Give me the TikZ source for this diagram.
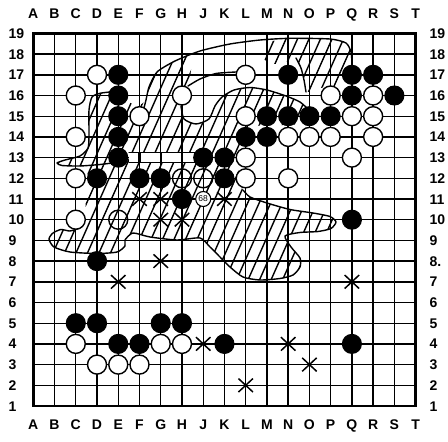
\documentclass[tikz,border=0pt]{standalone}
\usepackage{fontspec}
\setmainfont{Liberation Sans}
\usetikzlibrary{shapes.misc}
\tikzset{
  gridline/.style={line width=1.4pt},
  boardedge/.style={line width=2.7pt},
  bstone/.style={circle, fill=black, draw=black, line width=1.1pt, minimum size=19pt, inner sep=0pt},
  wstone/.style={circle, fill=white, draw=black, line width=1.4pt, minimum size=19pt, inner sep=0pt},
  hwstone/.style={circle, draw=black, line width=1.4pt, minimum size=19pt, inner sep=0pt},
  numstone/.style={circle, fill=white, draw=black, line width=1.1pt, minimum size=15pt, inner sep=0pt, font=\fontsize{8.5}{8.5}\selectfont},
  hatchline/.style={line width=1.4pt},
  outline/.style={line width=1.4pt, line join=round, line cap=round},
  xmark/.style={cross out, draw=black, line width=1.5pt, minimum width=13pt, minimum height=12pt, inner sep=0pt},
  lab/.style={font=\fontsize{14}{14}\selectfont\bfseries, inner sep=0pt, text height=10pt, text depth=0pt},
}
\begin{document}
\begin{tikzpicture}
\useasboundingbox (0pt,0pt) rectangle (448pt,-442pt);
% ---------- board grid (grid coordinates) ----------
\begin{scope}[shift={(12.06pt,-426.7pt)}, x=21.24pt, y=20.7pt]
  \foreach \i in {2,...,18} \draw[gridline] (\i,1) -- (\i,19);
  \foreach \j in {2,...,18} \draw[gridline] (1,\j) -- (19,\j);
  \draw[boardedge] (1,1) rectangle (19,19);
  % white stones lying under the hatching
  \foreach \c/\r in {5/10, 8/12, 9/12} \node[hwstone] (hw-\c-\r) at (\c,\r) {};
\end{scope}
% ---------- hatching and outlines (pixel coordinates) ----------
\begin{scope}[x=1pt, y=-1pt]
  \begin{scope}
    \clip plot[smooth cycle, tension=0.4] coordinates {
      (100,93.3) (110,92) (124,99) (137,106) (146,100) (149,87) (157,72) (175,61) (190,55)
      (191,70) (188,86) (181,106) (184,119) (196,124) (209,119) (215,106) (222,97) (234,90)
      (250,87.5) (267,90) (286,96) (300,102) (310,111) (314,121) (290,125) (262,125) (250,130)
      (240,145) (238,165) (240,182) (243,190) (250,197) (267,203) (290,209.5) (313,213)
      (330,216.5) (336,222) (331,228.5) (318,231.5) (300,232.5) (285,236) (291,247) (300,258)
      (300,267) (293,275) (280,278.5) (260,280) (243,277) (230,267) (220,257) (210,247)
      (200,238) (177,240) (150,237) (133,233) (125,240) (125,246) (117,252) (97,253.5)
      (70,252) (54,247) (49,239) (53,233) (61,229.5) (70,231) (80,228) (86,215) (85,195)
      (88,175) (80,166) (62,165.5) (57,163) (65,160) (80,156) (88,148) (89,135) (89,110) (92,97)}
      plot[smooth cycle, tension=0.4] coordinates {
      (262,45) (275,40.5) (290,38.3) (330,39) (346,43) (351,52) (352,64) (346,76) (336,86)
      (320,88) (306,92) (304,80) (301,68) (296,60) (285,62) (272,64) (263,58)};
    \foreach \k in {-14,...,34} \draw[hatchline] ({\k*11.5},450) -- ++(222,-500);
  \end{scope}
  % unhatched band along row 13
  \fill[white] (129,152.5) rectangle (197,162.5);
  \draw[outline] (129,152.5) -- (197,152.5);
  \draw[outline] (129,162.5) -- (197,162.5);
  \foreach \xx in {139.5,160.7,182.0} \draw[line width=2.4pt] (\xx,152.5) -- (\xx,162.5);
  % outlines
  \draw[outline] plot[smooth, tension=0.4] coordinates {
    (112,163) (100,164.5) (80,166) (62,165.5) (57,163) (65,160) (80,156) (88,148) (89,135)
    (89,110) (92,97) (100,93.3) (110,92)};
  \draw[outline] plot[smooth, tension=0.4] coordinates {
    (143,112) (146,100) (149,87) (157,72) (175,61) (200,51) (230,44) (260,40) (290,38.3)
    (330,39) (346,43) (351,52) (352,64)};
  \draw[outline] plot[smooth, tension=0.4] coordinates {(188,86) (200,79) (216,73.5) (236,72)};
  \draw[outline] plot[smooth, tension=0.4] coordinates {
    (181,106) (184,119) (196,124) (209,119) (215,106) (222,97) (234,90) (250,87.5) (267,90)
    (286,96) (300,102) (310,111)};
  \draw[outline] plot[smooth, tension=0.4] coordinates {(296,58) (301,68) (304,80) (306,92)};
  \draw[outline] plot[smooth, tension=0.4] coordinates {
    (243,190) (250,197) (267,203) (290,209.5) (313,213) (330,216.5) (336,222) (331,228.5)
    (318,231.5) (300,232.5) (285,236) (291,247) (300,258) (300,267) (293,275) (280,278.5)
    (260,280) (243,277) (230,267) (220,257) (210,247) (200,238) (177,240) (150,237) (133,233)
    (125,240) (125,246) (117,252) (97,253.5) (70,252) (54,247) (49,239) (53,233) (61,229.5)
    (70,231) (80,228)};
\end{scope}
% ---------- stones, marks, labels (grid coordinates) ----------
\begin{scope}[shift={(12.06pt,-426.7pt)}, x=21.24pt, y=20.7pt]
  \foreach \c/\r in {5/17, 13/17, 16/17, 17/17, 5/16, 16/16, 18/16, 5/15, 12/15, 13/15, 14/15,
    15/15, 5/14, 11/14, 12/14, 5/13, 9/13, 10/13, 4/12, 6/12, 7/12, 10/12, 8/11, 16/10, 4/8,
    3/5, 4/5, 7/5, 8/5, 5/4, 6/4, 10/4, 16/4}
    \node[bstone] (b-\c-\r) at (\c,\r) {};
  \foreach \c/\r in {4/17, 11/17, 3/16, 8/16, 15/16, 17/16, 6/15, 11/15, 16/15, 17/15, 3/14,
    13/14, 14/14, 15/14, 17/14, 11/13, 16/13, 3/12, 11/12, 13/12, 3/10, 3/4, 7/4, 8/4, 4/3,
    5/3, 6/3}
    \node[wstone] (w-\c-\r) at (\c,\r) {};
  \node[numstone] (n68) at (9,11) {68};
  \foreach \c/\r in {6/11, 7/11, 10/11, 7/10, 8/10, 7/8, 5/7, 16/7, 9/4, 13/4, 14/3, 11/2}
    \node[xmark] (x-\c-\r) at (\c,\r) {};
  % column letters
  \foreach \l [count=\i] in {A,B,C,D,E,F,G,H,J,K,L,M,N,O,P,Q,R,S,T} {
    \node[lab] (top-\i) at (\i,19.95) {\l};
    \node[lab] (bot-\i) at (\i,0.13) {\l};
  }
  % row numbers
  \foreach \j in {1,...,19} {
    \node[lab, anchor=west] (left-\j) at (-0.175,\j) {\j};
  }
  \foreach \j in {1,2,3,4,5,6,7,9,10,11,12,13,14,15,16,17,18,19} {
    \node[lab, anchor=west] (right-\j) at (19.65,\j) {\j};
  }
  \node[lab, anchor=west] (right-8) at (19.65,8) {8.};
\end{scope}
\end{tikzpicture}
\end{document}
